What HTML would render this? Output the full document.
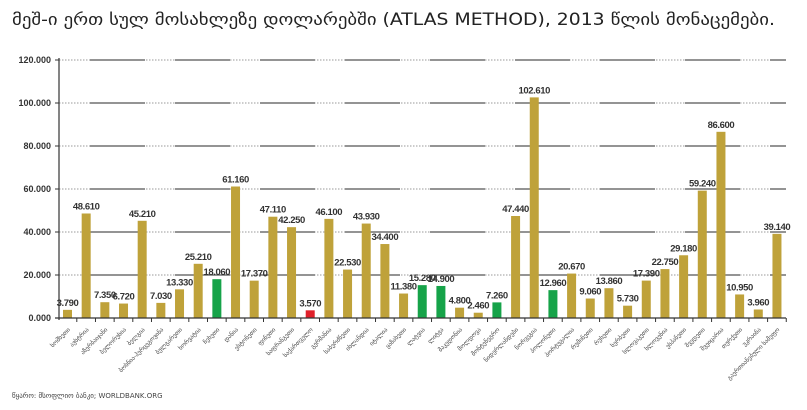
<!DOCTYPE html>
<html><head><meta charset="utf-8"><style>
html,body{margin:0;padding:0;background:#fff;}
svg{display:block;font-family:"Liberation Sans","DejaVu Sans",sans-serif;}
</style></head><body>
<svg width="807" height="410" viewBox="0 0 807 410" xmlns="http://www.w3.org/2000/svg">
<text x="12" y="25" font-size="16.5" fill="#222" textLength="763" lengthAdjust="spacingAndGlyphs" font-family="'DejaVu Sans','Liberation Sans',sans-serif">მეშ-ი ერთ სულ მოსახლეზე დოლარებში (ATLAS METHOD), 2013 წლის მონაცემები.</text>
<g id="grid"></g>
<g id="bars"></g>
<line x1="59" y1="58" x2="59" y2="320" stroke="#333" stroke-width="1.2"/>
<line x1="55" y1="318" x2="786" y2="318" stroke="#333" stroke-width="1.2"/>
<text x="12" y="398" font-size="7" fill="#444" font-family="'DejaVu Sans',sans-serif">წყარო: მსოფლიო ბანკი; WORLDBANK.ORG</text>
<script>
var ns="http://www.w3.org/2000/svg";
function el(t,a,p,txt){var e=document.createElementNS(ns,t);for(var k in a)e.setAttribute(k,a[k]);if(txt)e.textContent=txt;p.appendChild(e);return e;}
var g=document.getElementById('grid'),b=document.getElementById('bars');
var z=318,s=258/120000;
var ticks=["0.000","20.000","40.000","60.000","80.000","100.000","120.000"];
for(var i=0;i<7;i++){var y=z-i*20000*s;
 if(i>0){el('line',{x1:59,y1:y,x2:786,y2:y,stroke:'#999','stroke-width':1,'stroke-dasharray':'1.5 1.5'},g);
 el('line',{x1:90,y1:y,x2:786,y2:y,stroke:'#555','stroke-width':1.3,'stroke-dasharray':'55 30'},g);}
 el('line',{x1:55,y1:y,x2:59,y2:y,stroke:'#333'},g);
 el('text',{x:51,y:y+3,'font-size':9,'font-weight':'bold','text-anchor':'end',fill:'#333'},g,ticks[i]);}
var v=[3790,48610,7350,6720,45210,7030,13330,25210,18060,61160,17370,47110,42250,3570,46100,22530,43930,34400,11380,15280,14900,4800,2460,7260,47440,102610,12960,20670,9060,13860,5730,17390,22750,29180,59240,86600,10950,3960,39140];
var green={8:1,19:1,20:1,23:1,26:1},red={13:1};
var n=["სომხეთი","ავსტრია","აზერბაიჯანი","ბელორუსია","ბელგია","ბოსნია-ჰერცეგოვინა","ბულგარეთი","ხორვატია","ჩეხეთი","დანია","ესტონეთი","ფინეთი","საფრანგეთი","საქართველო","გერმანია","საბერძნეთი","ისლანდია","იტალია","ყაზახეთი","ლატვია","ლიტვა","მაკედონია","მოლდოვა","მონტენეგრო","ნიდერლანდები","ნორვეგია","პოლონეთი","პორტუგალია","რუმინეთი","რუსეთი","სერბეთი","სლოვაკეთი","სლოვენია","ესპანეთი","შვედეთი","შვეიცარია","თურქეთი","უკრაინა","გაერთიანებული სამეფო"];
for(var i=0;i<39;i++){var cx=67.5+i*18.67,h=v[i]*s;
 var c=green[i]?'#16a349':red[i]?'#e0202a':'#bfa23a';
 el('rect',{x:cx-4.5,y:z-h,width:9,height:h,fill:c},b);
 el('line',{x1:cx+9.3,y1:z,x2:cx+9.3,y2:z+4,stroke:'#333'},b);
 var lab=(v[i]/1000).toFixed(3);
 el('text',{x:cx,y:z-h-4,'font-size':9.5,'font-weight':'bold','text-anchor':'middle',fill:'#333','letter-spacing':'-0.4'},b,lab);
 el('text',{x:cx+3,y:z+12,'font-size':6,'text-anchor':'end',fill:'#444','font-family':"'DejaVu Sans',sans-serif",transform:'rotate(-45 '+(cx+3)+' '+(z+12)+')'},b,n[i]);}
</script>
</svg>
</body></html>
